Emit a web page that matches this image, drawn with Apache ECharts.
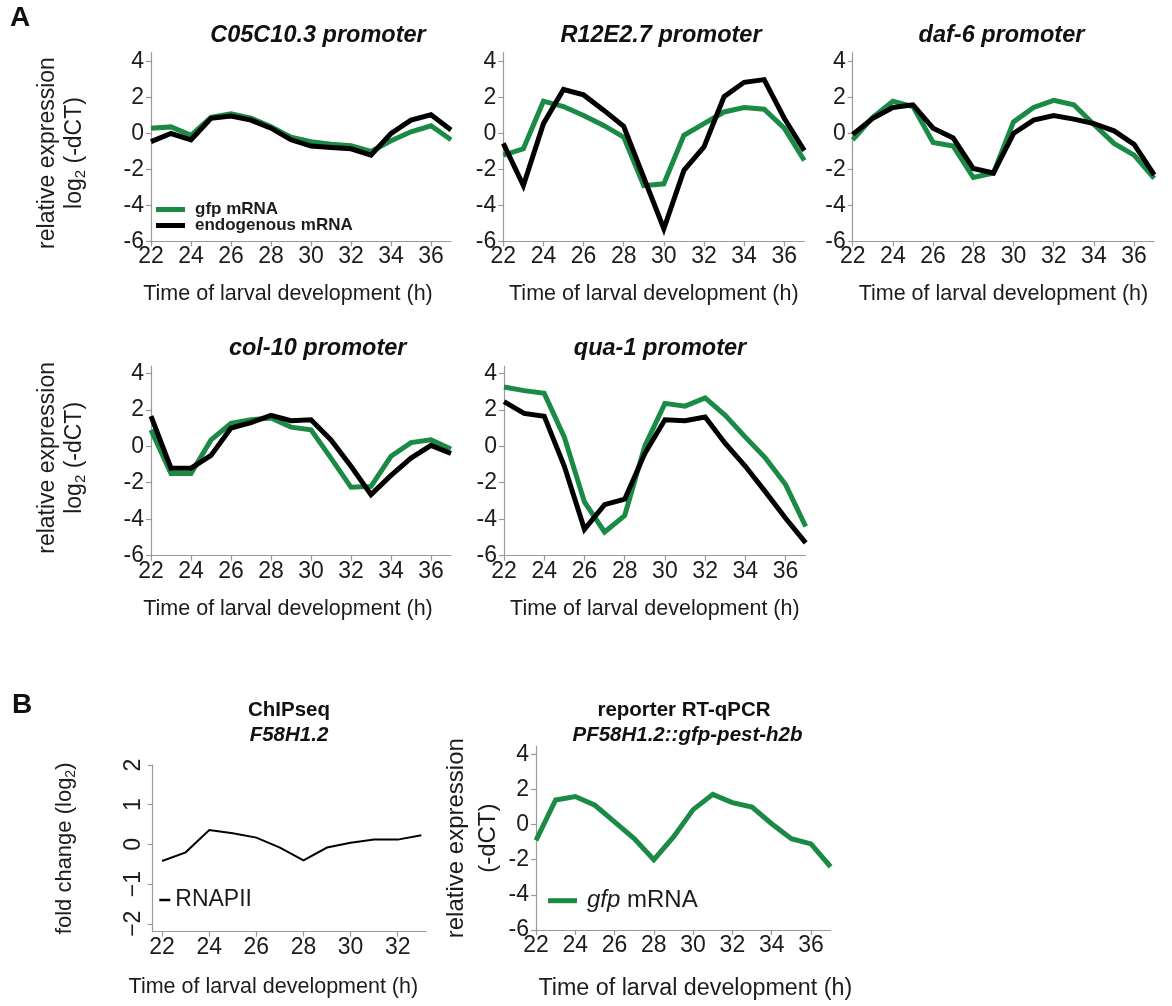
<!DOCTYPE html>
<html>
<head>
<meta charset="utf-8">
<script src="https://cdn.jsdelivr.net/npm/echarts@6/dist/echarts.min.js"></script>
<style>
  html, body { margin: 0; padding: 0; background: #fff; }
  #chart { width: 1172px; height: 1006px; }
</style>
</head>
<body>
<div id="chart"></div>
<script>
// Sampling times (hours of larval development)
const hours = [22, 23, 24, 25, 26, 27, 28, 29, 30, 31, 32, 33, 34, 35, 36, 37];
const chipHours = [22, 23, 24, 25, 26, 27, 28, 29, 30, 31, 32, 33];

// Tick positions
const timeTicks = [22, 24, 26, 28, 30, 32, 34, 36];
const chipTimeTicks = [22, 24, 26, 28, 30, 32];
const exprTicks = [-6, -4, -2, 0, 2, 4];
const foldTicks = [-2, -1, 0, 1, 2];

// Panel A: relative expression, log2(-dCT)
const c05Gfp  = [0.3, 0.37, -0.1, 0.9, 1.1, 0.85, 0.37, -0.2, -0.45, -0.6, -0.68, -1.0, -0.4, 0.1, 0.43, -0.35];
const c05Endo = [-0.45, 0, -0.35, 0.85, 0.97, 0.75, 0.3, -0.35, -0.7, -0.78, -0.85, -1.2, 0, 0.75, 1.04, 0.2];

const r12Gfp  = [-1.2, -0.85, 1.8, 1.5, 1.0, 0.45, -0.2, -2.9, -2.8, -0.1, 0.55, 1.2, 1.45, 1.35, 0.3, -1.5];
const r12Endo = [-0.55, -2.9, 0.55, 2.45, 2.15, 1.3, 0.4, -2.45, -5.3, -2.05, -0.75, 2.05, 2.85, 3.0, 0.85, -0.95];

const daf6Gfp  = [-0.35, 0.9, 1.8, 1.5, -0.5, -0.7, -2.45, -2.2, 0.65, 1.45, 1.85, 1.6, 0.5, -0.55, -1.2, -2.5];
const daf6Endo = [-0.05, 0.85, 1.45, 1.6, 0.3, -0.25, -1.95, -2.2, 0, 0.75, 1.0, 0.8, 0.55, 0.15, -0.6, -2.3];

const col10Gfp  = [0.9, -1.5, -1.5, 0.35, 1.25, 1.45, 1.55, 1.05, 0.9, -0.65, -2.25, -2.2, -0.55, 0.2, 0.35, -0.15];
const col10Endo = [1.65, -1.2, -1.2, -0.5, 1.0, 1.3, 1.7, 1.4, 1.45, 0.35, -1.1, -2.65, -1.6, -0.65, 0.05, -0.4];

const qua1Gfp  = [3.25, 3.05, 2.9, 0.5, -3.05, -4.7, -3.8, 0, 2.35, 2.2, 2.65, 1.7, 0.5, -0.65, -2.1, -4.4];
const qua1Endo = [2.45, 1.8, 1.65, -1.1, -4.55, -3.2, -2.9, -0.4, 1.45, 1.4, 1.6, 0.15, -1.1, -2.5, -3.95, -5.3];

// Panel B: RNAPII ChIP-seq fold change and reporter RT-qPCR
const rnapii = [-0.42, -0.2, 0.36, 0.28, 0.17, -0.08, -0.4, -0.08, 0.04, 0.12, 0.12, 0.23];
const reporterGfp = [-0.9, 1.4, 1.6, 1.1, 0.15, -0.8, -2.0, -0.7, 0.85, 1.72, 1.25, 1.0, 0.05, -0.8, -1.1, -2.4];

const FONT = "'Liberation Sans', Arial, Helvetica, sans-serif";
const GREEN = '#1a8a45';
const BLACK = '#000000';
const AXIS_GREY = '#9a9a9a';
const TEXT = '#1c1c1c';

const pairs = (xs, ys) => ys.map((v, i) => [xs[i], v]);

// Plot areas
const grids = [
  { left: 151,   top: 52.7,  width: 300,   height: 188.6 }, // C05C10.3
  { left: 503.3, top: 52.7,  width: 301,   height: 188.6 }, // R12E2.7
  { left: 852.7, top: 52.7,  width: 301.5, height: 188.6 }, // daf-6
  { left: 151,   top: 366,   width: 300,   height: 189.7 }, // col-10
  { left: 504,   top: 366,   width: 301.7, height: 189.7 }, // qua-1
  { left: 152.7, top: 765,   width: 273.3, height: 166.7 }, // ChIPseq
  { left: 536,   top: 746.4, width: 294.6, height: 183.6 }  // reporter
].map(g => Object.assign({ outerBoundsMode: 'none', containLabel: false }, g));

const axisLine = { show: true, onZero: false, lineStyle: { color: AXIS_GREY, width: 1.2 } };
const axisTick = (vals) => ({ show: true, length: 5, lineStyle: { color: AXIS_GREY, width: 1.2 }, customValues: vals });

function timeAxis(gridIndex, opts) {
  return {
    type: 'value', gridIndex,
    min: opts.min, max: opts.max, interval: 2,
    splitLine: { show: false },
    axisLine, axisTick: axisTick(opts.ticks),
    axisLabel: { customValues: opts.ticks, margin: 4, color: TEXT, fontFamily: FONT, fontSize: opts.labelSize || 23 },
    name: 'Time of larval development (h)',
    nameLocation: 'middle',
    nameGap: opts.gap,
    nameTextStyle: { color: TEXT, fontFamily: FONT, fontSize: opts.nameSize || 21.5, padding: opts.pad || 0 }
  };
}

const exprNameA = {
  name: '{t|relative expression}\n{t|log}{s|2}{t| (-dCT)}',
  nameTextStyle: {
    color: TEXT, fontFamily: FONT,
    rich: {
      t: { fontSize: 23, lineHeight: 27, color: TEXT, fontFamily: FONT },
      s: { fontSize: 15, lineHeight: 17, verticalAlign: 'bottom', color: TEXT, fontFamily: FONT }
    }
  }
};

function exprAxis(gridIndex, max, withName, nameGap, namePad) {
  const ax = {
    type: 'value', gridIndex,
    min: -6, max: max, interval: 2,
    splitLine: { show: false },
    axisLine, axisTick: axisTick(exprTicks),
    axisLabel: { customValues: exprTicks, margin: 7, color: TEXT, fontFamily: FONT, fontSize: 23 }
  };
  if (withName) {
    Object.assign(ax, {
      name: withName.name,
      nameLocation: 'middle',
      nameGap: nameGap,
      nameTextStyle: Object.assign({}, withName.nameTextStyle, { padding: namePad || 0 })
    });
  }
  return ax;
}

const xAxes = [
  timeAxis(0, { min: 22, max: 37, ticks: timeTicks, gap: 42, pad: [0, 26, 0, 0] }),
  timeAxis(1, { min: 22, max: 37, ticks: timeTicks, gap: 42 }),
  timeAxis(2, { min: 22, max: 37, ticks: timeTicks, gap: 42 }),
  timeAxis(3, { min: 22, max: 37, ticks: timeTicks, gap: 42, pad: [0, 26, 0, 0] }),
  timeAxis(4, { min: 22, max: 37, ticks: timeTicks, gap: 42 }),
  timeAxis(5, { min: 21.6, max: 33.2, ticks: chipTimeTicks, gap: 44, pad: [0, 32, 0, 0] }),
  timeAxis(6, { min: 22, max: 37, ticks: timeTicks, gap: 47, nameSize: 23.3, pad: [0, 0, 0, 24] })
];

const yAxes = [
  exprAxis(0, 4.5, exprNameA, 63, [0, 12, 0, 0]),
  exprAxis(1, 4.5),
  exprAxis(2, 4.5),
  exprAxis(3, 4.4, exprNameA, 63, [0, 0, 0, 6]),
  exprAxis(4, 4.4),
  {
    type: 'value', gridIndex: 5,
    min: -2.2, max: 2, interval: 1,
    splitLine: { show: false },
    axisLine, axisTick: axisTick(foldTicks),
    axisLabel: {
      customValues: foldTicks, rotate: 90, margin: 8,
      color: TEXT, fontFamily: FONT, fontSize: 23,
      formatter: v => String(v).replace('-', '\u2212')
    },
    name: '{t|fold change (log}{s|2}{t|)}',
    nameLocation: 'middle',
    nameGap: 75,
    nameTextStyle: {
      color: TEXT, fontFamily: FONT,
      rich: {
        t: { fontSize: 22, lineHeight: 26, color: TEXT, fontFamily: FONT },
        s: { fontSize: 14, lineHeight: 16, verticalAlign: 'bottom', color: TEXT, fontFamily: FONT }
      }
    }
  },
  Object.assign(exprAxis(6, 4.45), {
    name: 'relative expression\n(-dCT)',
    nameLocation: 'middle',
    nameGap: 28,
    nameTextStyle: { color: TEXT, fontFamily: FONT, fontSize: 24, lineHeight: 32, align: 'center' }
  })
];

function lineSeries(name, idx, xs, ys, color, width) {
  return {
    type: 'line', name,
    xAxisIndex: idx, yAxisIndex: idx,
    data: pairs(xs, ys),
    showSymbol: false, symbol: 'none',
    lineStyle: { color, width, join: 'miter', cap: 'butt' },
    itemStyle: { color },
    z: color === BLACK ? 3 : 2,
    silent: true, animation: false
  };
}

const series = [
  lineSeries('gfp mRNA', 0, hours, c05Gfp, GREEN, 5),
  lineSeries('endogenous mRNA', 0, hours, c05Endo, BLACK, 5),
  lineSeries('gfp mRNA', 1, hours, r12Gfp, GREEN, 5),
  lineSeries('endogenous mRNA', 1, hours, r12Endo, BLACK, 5),
  lineSeries('gfp mRNA', 2, hours, daf6Gfp, GREEN, 5),
  lineSeries('endogenous mRNA', 2, hours, daf6Endo, BLACK, 5),
  lineSeries('gfp mRNA', 3, hours, col10Gfp, GREEN, 5),
  lineSeries('endogenous mRNA', 3, hours, col10Endo, BLACK, 5),
  lineSeries('gfp mRNA', 4, hours, qua1Gfp, GREEN, 5),
  lineSeries('endogenous mRNA', 4, hours, qua1Endo, BLACK, 5),
  lineSeries('RNAPII', 5, chipHours, rnapii, BLACK, 2),
  lineSeries('reporter gfp mRNA', 6, hours, reporterGfp, GREEN, 5)
];

const legends = [
  {
    data: ['gfp mRNA', 'endogenous mRNA'],
    orient: 'vertical', left: 156, top: 201, padding: 0, itemGap: -1,
    icon: 'rect', itemWidth: 29, itemHeight: 5, selectedMode: false,
    textStyle: { color: TEXT, fontFamily: FONT, fontSize: 17, fontWeight: 'bold', lineHeight: 15, padding: [0, 0, 0, 5] }
  },
  {
    data: ['RNAPII'],
    left: 159.3, top: 887, padding: 0,
    icon: 'rect', itemWidth: 11, itemHeight: 2.5, selectedMode: false,
    textStyle: { color: TEXT, fontFamily: FONT, fontSize: 23, lineHeight: 26 }
  },
  {
    data: ['reporter gfp mRNA'],
    left: 548, top: 887.7, padding: 0,
    icon: 'rect', itemWidth: 29, itemHeight: 5, selectedMode: false,
    formatter: () => '{i|gfp} mRNA',
    textStyle: {
      color: TEXT, fontFamily: FONT, fontSize: 24, lineHeight: 26, padding: [0, 0, 0, 5],
      rich: { i: { fontStyle: 'italic', fontSize: 24, lineHeight: 26, color: TEXT, fontFamily: FONT } }
    }
  }
];

function label(text, x, y, size, bold, italic) {
  return {
    text, left: x, top: y, padding: 0,
    textAlign: 'center', textVerticalAlign: 'middle',
    textStyle: {
      color: '#111', fontFamily: FONT, fontSize: size,
      fontWeight: bold ? 'bold' : 'normal', fontStyle: italic ? 'italic' : 'normal'
    }
  };
}

const titles = [
  Object.assign(label('A', 0, 18, 28, true, false), { textAlign: 'left', left: 10 }),
  Object.assign(label('B', 0, 705, 28, true, false), { textAlign: 'left', left: 12 }),
  label('C05C10.3 promoter', 318, 36, 23.5, true, true),
  label('R12E2.7 promoter', 661, 36, 23.5, true, true),
  label('daf-6 promoter', 1001.5, 36, 23.5, true, true),
  label('col-10 promoter', 317.7, 349, 23.5, true, true),
  label('qua-1 promoter', 660, 349, 23.5, true, true),
  label('ChIPseq', 289, 710, 20.5, true, false),
  label('F58H1.2', 289, 735, 20.5, true, true),
  label('reporter RT-qPCR', 684, 710, 20.5, true, false),
  label('PF58H1.2::gfp-pest-h2b', 687.5, 735, 20.5, true, true)
];

const chart = echarts.init(document.getElementById('chart'), null, { renderer: 'canvas' });
chart.setOption({
  backgroundColor: '#ffffff',
  animation: false,
  textStyle: { fontFamily: FONT },
  title: titles,
  legend: legends,
  grid: grids,
  xAxis: xAxes,
  yAxis: yAxes,
  series
});
</script>
</body>
</html>
